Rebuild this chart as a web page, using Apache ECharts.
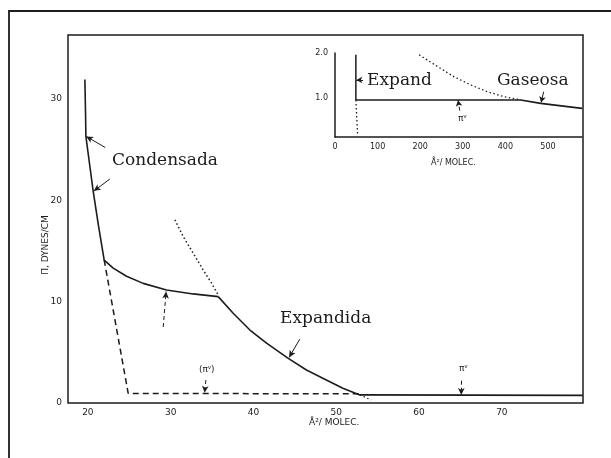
<!DOCTYPE html>
<html>
<head>
<meta charset="utf-8">
<script src="https://cdn.jsdelivr.net/npm/echarts@6/dist/echarts.min.js"></script>
<style>
html,body{margin:0;padding:0;background:#fff;}
#chart{width:611px;height:458px;}
</style>
</head>
<body>
<div id="chart"></div>
<script>
// ---- Data ----
const mainXTicks = [20, 30, 40, 50, 60, 70];
const mainYTicks = [0, 10, 20, 30];
const insetXTicks = [0, 100, 200, 300, 400, 500];
const insetYTicks = [1, 2];

// Condensed phase curve (solid) : [area A²/molec, Π dynes/cm]
const condensada = [[19.64,31.9],[19.72,28.5],[19.76,26.3],[20.2,23.6],[20.64,20.9],[21.3,17.4],[21.97,14.1],[23.06,13.3],[24.67,12.5],[26.68,11.8],[29.5,11.15],[32.7,10.76],[35.74,10.49]];
// Expanded phase curve (solid) and gaseous plateau
const expandida = [[35.74,10.49],[37.55,8.85],[39.57,7.2],[41.58,5.9],[44.2,4.4],[46.4,3.26],[48.8,2.27],[50.8,1.45],[52.85,0.8],[79.8,0.75]];
// Dashed construction (condensed extrapolation to Π^v)
const dashedPi = [[21.97,14.1],[24.87,0.95],[52.85,0.9]];
// Dotted extrapolation of expanded curve
const dottedUpper = [[30.51,18.07],[31.51,16.42],[32.72,14.78],[33.92,13.13],[34.94,11.82],[35.74,10.66]];
const dottedTail = [[52.85,0.8],[54.2,0.3]];

// Inset
const insetVertical = [[49,1.96],[49,0.955]];
const insetVerticalDotted = [[49,0.955],[53,0.2]];
const insetSolid = [[49,0.955],[436,0.955],[483,0.88],[580,0.77]];
const insetDotted = [[197.6,1.96],[240.7,1.70],[279.6,1.47],[318.7,1.29],[357.8,1.14],[396.8,1.03],[436,0.955]];

const INK = '#1c1c1c';
const tickFont = {fontSize: 9, fontFamily: 'DejaVu Sans', color: INK};
const serif = 'DejaVu Serif';

function arrow(a, b, dashed) {
  return [{coord: a, lineStyle: {type: dashed ? [4,3] : 'solid'}}, {coord: b}];
}

const chart = echarts.init(document.getElementById('chart'), null, {renderer: 'canvas'});

const option = {
  animation: false,
  backgroundColor: '#fff',
  grid: [
    {left: 68, top: 35, right: 28, bottom: 55, show: true, borderColor: INK, borderWidth: 1.5, backgroundColor: 'transparent'},
    {left: 335, top: 53, right: 29, bottom: 321, show: false}
  ],
  xAxis: [
    {gridIndex: 0, type: 'value', min: 17.6, max: 79.8,
     axisLine: {show: false}, axisTick: {show: false}, splitLine: {show: false},
     axisLabel: Object.assign({customValues: mainXTicks, margin: 5}, tickFont)},
    {gridIndex: 1, type: 'value', min: 0, max: 580,
     axisLine: {show: true, onZero: false, lineStyle: {color: INK, width: 1.5}}, axisTick: {show: false}, splitLine: {show: false},
     axisLabel: Object.assign({customValues: insetXTicks, margin: 6}, tickFont, {fontSize: 8})}
  ],
  yAxis: [
    {gridIndex: 0, type: 'value', min: 0, max: 36.3,
     axisLine: {show: false}, axisTick: {show: false}, splitLine: {show: false},
     axisLabel: Object.assign({customValues: mainYTicks, margin: 6}, tickFont)},
    {gridIndex: 1, type: 'value', min: 0.133, max: 2.0,
     axisLine: {show: true, onZero: false, lineStyle: {color: INK, width: 1.5}}, axisTick: {show: false}, splitLine: {show: false},
     axisLabel: Object.assign({customValues: insetYTicks, margin: 7, formatter: v => v.toFixed(1)}, tickFont, {fontSize: 8})}
  ],
  series: [
    {type: 'line', xAxisIndex: 0, yAxisIndex: 0, data: condensada, showSymbol: false, symbol: 'none',
     lineStyle: {color: INK, width: 1.6}, z: 3,
     markLine: {silent: true, symbol: ['none', 'arrow'], symbolSize: [5, 7], label: {show: false},
       lineStyle: {color: INK, width: 1}, animation: false,
       data: [
         arrow([22.1,25.2],[19.8,26.3]),
         arrow([22.66,22.1],[20.72,20.9]),
         arrow([45.6,6.3],[44.3,4.5]),
         arrow([29.1,7.5],[29.45,11.0], true),
         arrow([34.25,2.27],[34.1,1.0], true),
         arrow([65.1,2.2],[65.1,0.8], true)
       ]}},
    {type: 'line', xAxisIndex: 0, yAxisIndex: 0, data: expandida, showSymbol: false, symbol: 'none',
     lineStyle: {color: INK, width: 1.6}, z: 3},
    {type: 'line', xAxisIndex: 0, yAxisIndex: 0, data: dashedPi, showSymbol: false, symbol: 'none',
     lineStyle: {color: INK, width: 1.5, type: [6, 4]}},
    {type: 'line', xAxisIndex: 0, yAxisIndex: 0, data: dottedUpper, showSymbol: false, symbol: 'none',
     lineStyle: {color: INK, width: 1.5, type: [1.5, 2.5]}},
    {type: 'line', xAxisIndex: 0, yAxisIndex: 0, data: dottedTail, showSymbol: false, symbol: 'none',
     lineStyle: {color: INK, width: 1.2, type: [1.5, 2.5]}},
    // inset
    {type: 'line', xAxisIndex: 1, yAxisIndex: 1, data: insetVertical, showSymbol: false, symbol: 'none',
     lineStyle: {color: INK, width: 1.5}},
    {type: 'line', xAxisIndex: 1, yAxisIndex: 1, data: insetVerticalDotted, showSymbol: false, symbol: 'none',
     lineStyle: {color: INK, width: 1.3, type: [1.5, 2.5]}},
    {type: 'line', xAxisIndex: 1, yAxisIndex: 1, data: insetSolid, showSymbol: false, symbol: 'none',
     lineStyle: {color: INK, width: 1.6},
     markLine: {silent: true, symbol: ['none', 'arrow'], symbolSize: [5, 6], label: {show: false},
       lineStyle: {color: INK, width: 1}, animation: false,
       data: [
         arrow([66,1.4],[50,1.4]),
         arrow([490,1.14],[484,0.9]),
         arrow([293,0.72],[289,0.95], true)
       ]}},
    {type: 'line', xAxisIndex: 1, yAxisIndex: 1, data: insetDotted, showSymbol: false, symbol: 'none',
     lineStyle: {color: INK, width: 1.3, type: [1.5, 2.5]}}
  ],
  graphic: [
    // outer frame
    {type: 'polyline', shape: {points: [[9, 458], [9, 11], [611, 11]]}, style: {stroke: INK, lineWidth: 1.8, fill: null}},
    // labels
    {type: 'text', left: 112, top: 152, style: {text: 'Condensada', font: '17px "DejaVu Serif"', fill: INK}},
    {type: 'text', left: 280, top: 310, style: {text: 'Expandida', font: '17px "DejaVu Serif"', fill: INK}},
    {type: 'text', left: 367, top: 72, style: {text: 'Expand', font: '17px "DejaVu Serif"', fill: INK}},
    {type: 'text', left: 497, top: 72, style: {text: 'Gaseosa', font: '17px "DejaVu Serif"', fill: INK}},
    {type: 'text', left: 199, top: 364, style: {text: '(π{s|v})', font: '9px "DejaVu Sans"', fill: INK,
      rich: {s: {fontSize: 6, verticalAlign: 'top', padding: [0,0,5,0]}}}},
    {type: 'text', left: 459, top: 363, style: {text: 'π{s|v}', font: '9px "DejaVu Sans"', fill: INK,
      rich: {s: {fontSize: 6, padding: [0,0,5,0]}}}},
    {type: 'text', left: 458, top: 113, style: {text: 'π{s|v}', font: '9px "DejaVu Sans"', fill: INK,
      rich: {s: {fontSize: 6, padding: [0,0,5,0]}}}},
    // axis titles
    {type: 'text', left: 309, top: 418, style: {text: 'Å²/ MOLEC.', font: '9px "DejaVu Sans"', fill: INK}},
    {type: 'text', left: 431, top: 159, style: {text: 'Å²/ MOLEC.', font: '8px "DejaVu Sans"', fill: INK}},
    {type: 'text', x: 46, y: 245, rotation: Math.PI / 2,
     style: {text: 'Π, DYNES/CM', font: '9px "DejaVu Sans"', fill: INK, textAlign: 'center', textVerticalAlign: 'middle'}}
  ]
};
chart.setOption(option);
</script>
</body>
</html>
